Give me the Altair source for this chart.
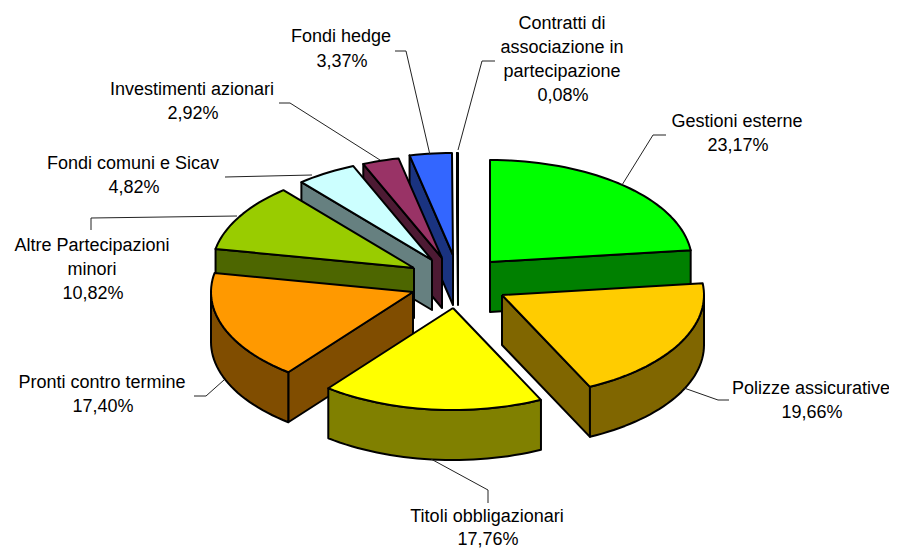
import math
import altair as alt
import pandas as pd

categories = ["Contratti di associazione in partecipazione", "Fondi hedge", "Investimenti azionari",
              "Fondi comuni e Sicav", "Altre Partecipazioni minori", "Gestioni esterne",
              "Polizze assicurative", "Pronti contro termine", "Titoli obbligazionari"]
order_clockwise = ["Gestioni esterne", "Polizze assicurative", "Titoli obbligazionari",
                   "Pronti contro termine", "Altre Partecipazioni minori", "Fondi comuni e Sicav",
                   "Investimenti azionari", "Fondi hedge", "Contratti di associazione in partecipazione"]
shares = [23.17, 19.66, 17.76, 17.40, 10.82, 4.82, 2.92, 3.37, 0.08]
top_colors = ["#00FF00", "#FFCC00", "#FFFF00", "#FF9900", "#99CC00", "#CCFFFF", "#993366", "#3366FF", "#FFFFFF"]
side_colors = ["#008000", "#806600", "#808000", "#804D00", "#4D6600", "#668080", "#4D1A33", "#1A3380", "#808080"]
tips = [(490, 262), (502, 295), (453, 308), (413, 292), (414, 268), (432, 260), (442, 258), (453, 255), (458, 255)]
RX, RY, DEPTH = 202, 102, 50

label_rows = [
    ("Contratti di", 562, 24), ("associazione in", 562, 48), ("partecipazione", 562, 72), ("0,08%", 563, 96),
    ("Gestioni esterne", 737, 122), ("23,17%", 738, 146),
    ("Polizze assicurative", 811, 389), ("19,66%", 812, 413),
    ("Titoli obbligazionari", 487, 517), ("17,76%", 488, 540),
    ("Pronti contro termine", 102, 383), ("17,40%", 103, 407),
    ("Altre Partecipazioni", 92, 246), ("minori", 92, 270), ("10,82%", 93, 294),
    ("Fondi comuni e Sicav", 133, 164), ("4,82%", 134, 188),
    ("Investimenti azionari", 192, 90), ("2,92%", 193, 114),
    ("Fondi hedge", 341, 37), ("3,37%", 342, 62),
]
leaders = [
    [(495, 61), (482, 61), (458, 150)],
    [(666, 135), (653, 135), (622, 185)],
    [(729, 400), (718, 400), (684, 388)],
    [(488, 503), (488, 490), (431, 459)],
    [(194, 396), (206, 396), (224, 380)],
    [(91, 230), (91, 218), (237, 216)],
    [(225, 177), (312, 175)],
    [(279, 103), (290, 103), (380, 160)],
    [(395, 51), (406, 51), (430, 155)],
]

xs = alt.Scale(domain=[8, 889], range=[0, 881])
ys = alt.Scale(domain=[8, 548], range=[0, 540])
X = alt.X("x:Q", scale=xs, axis=None)
Y = alt.Y("y:Q", scale=ys, axis=None)


def rim(tip, a0, a1):
    n = max(2, int(abs(a1 - a0) / 2) + 2)
    out = []
    for k in range(n):
        a = math.radians(a0 + (a1 - a0) * k / (n - 1))
        out.append((tip[0] + RX * math.sin(a), tip[1] - RY * math.cos(a)))
    return out


def face(points, fill, stroke="black", sw=2):
    pts = list(points) + [points[0]]
    df = pd.DataFrame({"x": [p[0] for p in pts], "y": [p[1] for p in pts], "i": range(len(pts))})
    return alt.Chart(df).mark_line(fill=fill, stroke=stroke, strokeWidth=sw, strokeJoin="round",
                                   interpolate="linear", clip=False).encode(x=X, y=Y, order="i:Q")


starts = {}
acc = 0.0
for name, s in zip(order_clockwise, shares):
    starts[name] = (acc * 3.6, (acc + s) * 3.6)
    acc += s

layers = []
idx = {n: i for i, n in enumerate(order_clockwise)}
for name in categories:
    i = idx[name]
    a0, a1 = starts[name]
    tip = tips[i]
    side = side_colors[i]
    r0 = rim(tip, a0, a0)[0]
    r1 = rim(tip, a1, a1)[0]
    # only the radial walls that face the viewer are drawn
    if math.sin(math.radians(a0)) < 0:
        layers.append(face([tip, r0, (r0[0], r0[1] + DEPTH), (tip[0], tip[1] + DEPTH)], side))
    if math.sin(math.radians(a1)) > 0:
        layers.append(face([tip, r1, (r1[0], r1[1] + DEPTH), (tip[0], tip[1] + DEPTH)], side))
    lo, hi = max(a0, 90), min(a1, 270)
    if hi > lo:
        arc = rim(tip, lo, hi)
        layers.append(face(arc + [(p[0], p[1] + DEPTH) for p in arc][::-1], side))
    layers.append(face([tip] + rim(tip, a0, a1), top_colors[i]))

for j, pts in enumerate(leaders):
    df = pd.DataFrame({"x": [p[0] for p in pts], "y": [p[1] for p in pts], "i": range(len(pts))})
    layers.append(alt.Chart(df).mark_line(color="#222222", strokeWidth=1).encode(x=X, y=Y, order="i:Q"))

labels = pd.DataFrame(label_rows, columns=["text", "x", "y"])
layers.append(alt.Chart(labels).mark_text(font="Liberation Sans", fontSize=18, color="black", align="center",
                                          baseline="middle").encode(x=X, y=Y, text="text:N"))

chart = alt.layer(*layers).properties(
    width=881, height=540, padding=0, autosize=alt.AutoSizeParams(type="none"), background="white"
).configure_view(stroke=None)
chart.save("out.html", embed_options={"renderer": "svg", "actions": False})
